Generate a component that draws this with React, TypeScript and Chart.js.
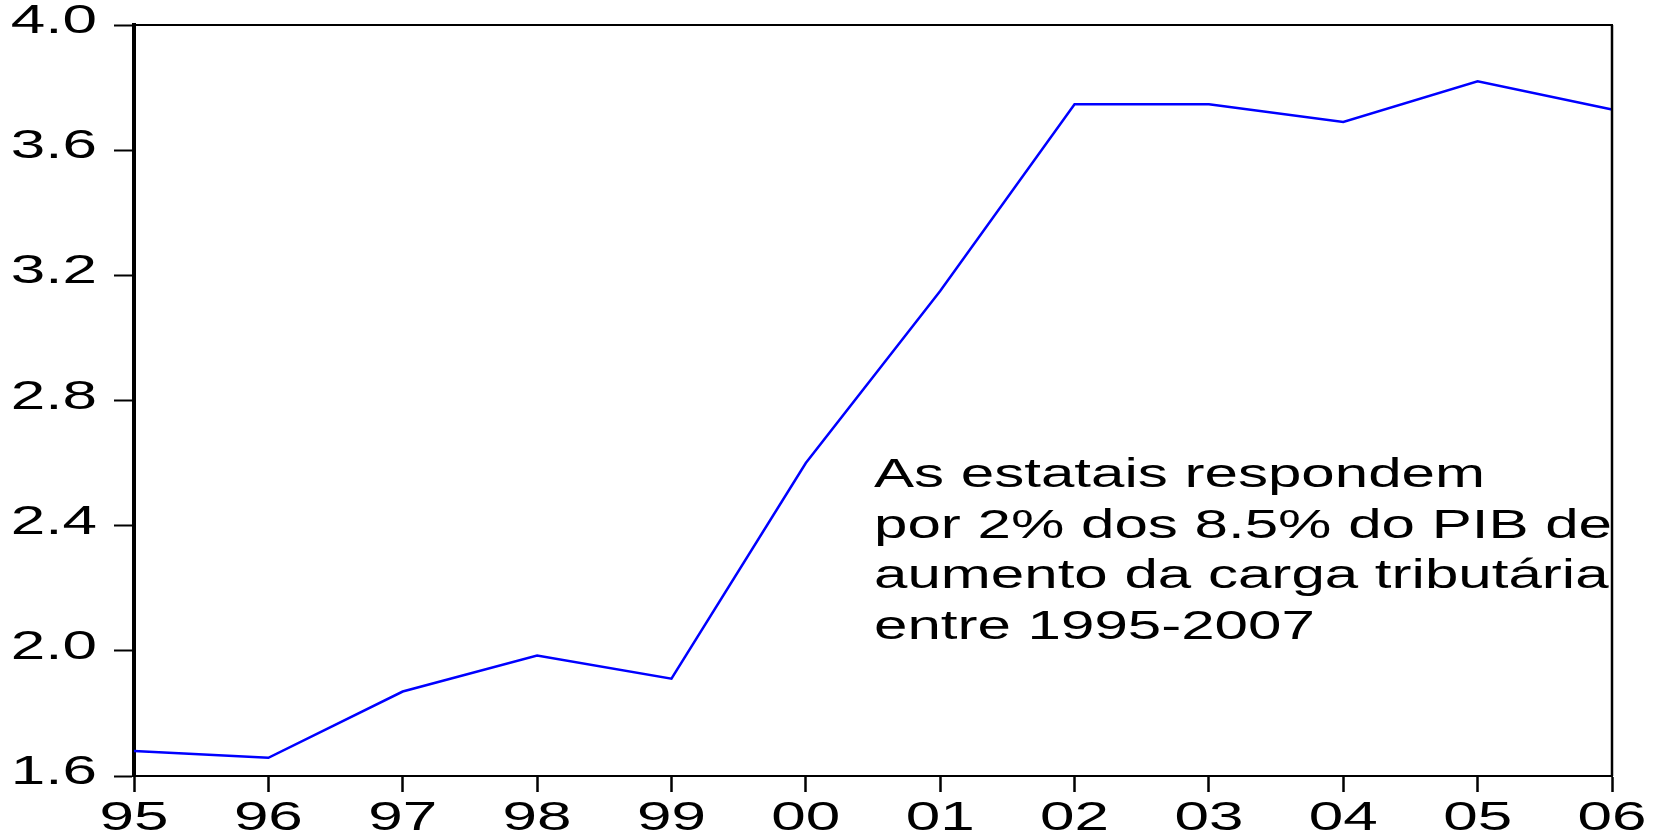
import React, { useEffect, useRef } from "react";
import { Chart, registerables } from "chart.js";

Chart.register(...registerables);

const years = ["95", "96", "97", "98", "99", "00", "01", "02", "03", "04", "05", "06"];
const values = [1.68, 1.658, 1.87, 1.985, 1.911, 2.6, 3.15, 3.747, 3.747, 3.69, 3.82, 3.73];
const yTicks = [1.6, 2.0, 2.4, 2.8, 3.2, 3.6, 4.0];
const noteLines = [
  "As estatais respondem",
  "por 2% dos 8.5% do PIB de",
  "aumento da carga tributária",
  "entre 1995-2007",
];

const SX = 1.55;
const TICK_FONT = '40px "Liberation Sans", Arial, sans-serif';
const NOTE_SX = 1.465;
const NOTE_FONT = '41px "Liberation Sans", Arial, sans-serif';

const customPlugin = {
  id: "custom",
  afterDraw(chart: any) {
    const ctx = chart.ctx;
    const { left, right, top, bottom } = chart.chartArea;
    ctx.save();
    // top and right frame
    ctx.strokeStyle = "#000";
    ctx.lineWidth = 2;
    ctx.beginPath();
    ctx.moveTo(left, top);
    ctx.lineTo(right + 1, top);
    ctx.stroke();
    ctx.lineWidth = 2.5;
    ctx.beginPath();
    ctx.moveTo(right, top);
    ctx.lineTo(right, bottom);
    ctx.stroke();

    // stretched tick labels
    const ys = chart.scales.y;
    const xs = chart.scales.x;
    ctx.fillStyle = "#000";
    ctx.font = TICK_FONT;
    ctx.textBaseline = "alphabetic";
    ctx.save();
    ctx.scale(SX, 1);
    ctx.textAlign = "right";
    ys.ticks.forEach((t: any) => {
      const py = ys.getPixelForValue(t.value);
      ctx.fillText(t.value.toFixed(1), 97 / SX, py + 8);
    });
    ctx.textAlign = "center";
    years.forEach((lab, i) => {
      const px = xs.getPixelForValue(i);
      ctx.fillText(lab, px / SX, 830);
    });
    ctx.restore();

    // annotation
    ctx.save();
    ctx.scale(NOTE_SX, 1);
    ctx.font = NOTE_FONT;
    ctx.textAlign = "left";
    noteLines.forEach((l, i) => {
      ctx.fillText(l, 874 / NOTE_SX, 487 + i * 50.5);
    });
    ctx.restore();
    ctx.restore();
  },
};

export default function App() {
  const ref = useRef<HTMLCanvasElement>(null);
  useEffect(() => {
    const chart = new Chart(ref.current!, {
      type: "line",
      data: {
        labels: years,
        datasets: [
          {
            data: values,
            borderColor: "#0000ff",
            borderWidth: 2.5,
            pointRadius: 0,
            tension: 0,
            fill: false,
          },
        ],
      },
      options: {
        animation: false,
        responsive: false,
        maintainAspectRatio: false,
        devicePixelRatio: 1,
        layout: { padding: { left: 0, right: 47, top: 25, bottom: 0 } },
        plugins: { legend: { display: false }, tooltip: { enabled: false } },
        scales: {
          x: {
            type: "category",
            offset: false,
            ticks: { display: false },
            grid: {
              drawOnChartArea: false,
              drawTicks: true,
              tickLength: 16,
              tickWidth: 2.5,
              tickColor: "#000",
              offset: false,
            },
            border: { display: true, color: "#000", width: 2 },
            afterFit: (s: any) => {
              s.height = 59;
            },
          },
          y: {
            min: 1.6,
            max: 4.0,
            ticks: { display: false, stepSize: 0.4 },
            afterBuildTicks: (s: any) => {
              s.ticks = yTicks.map((v) => ({ value: v }));
            },
            grid: {
              drawOnChartArea: false,
              drawTicks: true,
              tickLength: 20,
              tickWidth: 2,
              tickColor: "#000",
            },
            border: { display: true, color: "#000", width: 4 },
            afterFit: (s: any) => {
              s.width = 134;
            },
          },
        },
      },
      plugins: [customPlugin],
    });
    return () => chart.destroy();
  }, []);
  return (
    <div style={{ position: "absolute", left: 0, top: 0, width: 1659, height: 835, background: "#fff" }}>
      <canvas ref={ref} width={1659} height={835} style={{ width: 1659, height: 835, display: "block" }} />
    </div>
  );
}
